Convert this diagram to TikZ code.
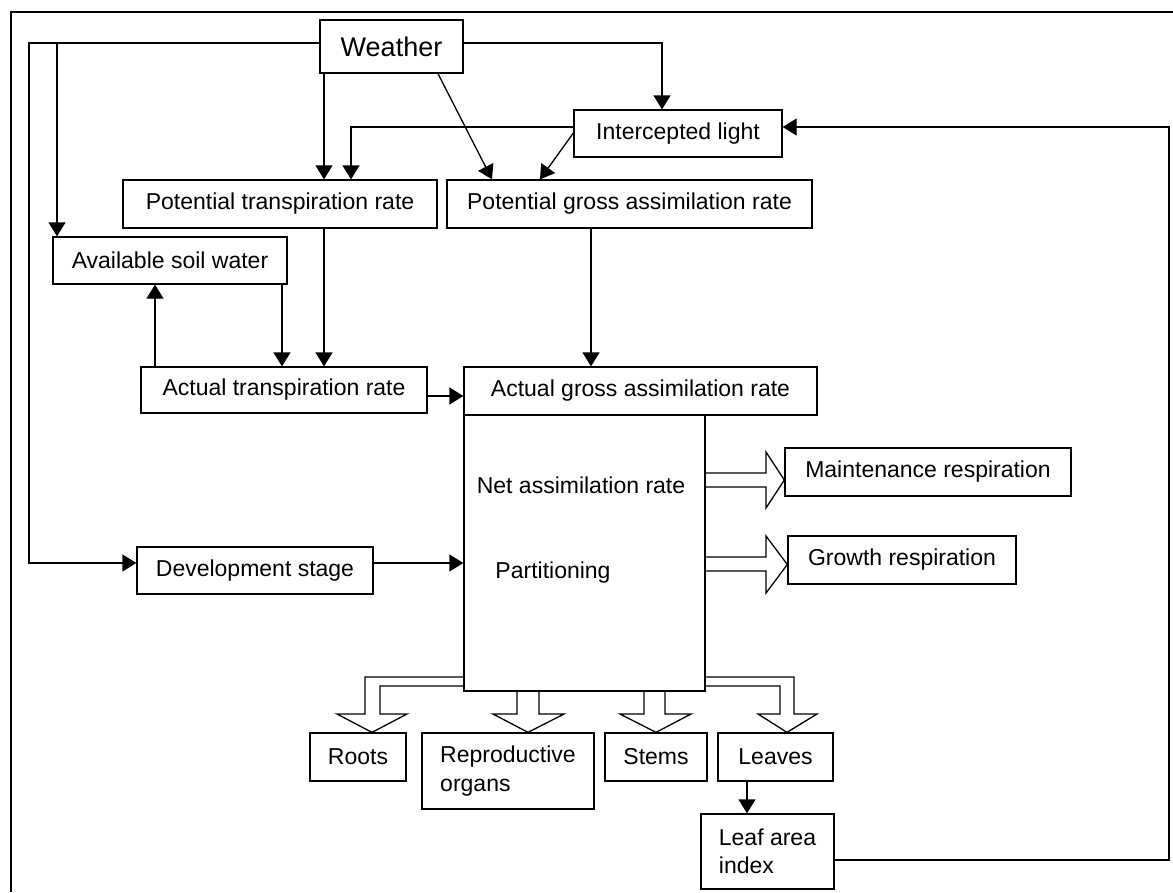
\documentclass[tikz,border=0pt]{standalone}
\usepackage{fontspec}
\setmainfont{Liberation Sans}
\usetikzlibrary{arrows.meta}
\begin{document}
\begin{tikzpicture}[x=1pt,y=-1pt,
  box/.style={draw, line width=1.3pt, inner sep=0pt, font=\fontsize{23}{28.5}\selectfont},
  lbl/.style={inner sep=0pt, font=\fontsize{23}{28.5}\selectfont},
  arr/.style={draw, line width=1.3pt, -{Triangle[length=14pt,width=17pt]}},
  hollow/.style={draw, line width=1.3pt, line join=miter}]
\useasboundingbox (0,0) rectangle (1173,892);
\fill[white] (0,0) rectangle (1173,892);
\draw[line width=2pt] (11,892) -- (11,12) -- (1173,12);
% nodes
\node[box, minimum width=143pt, minimum height=53pt, font=\fontsize{27}{32}\selectfont] (weather) at (391.5,46.5) {Weather};
\node[box, minimum width=208pt, minimum height=47pt] (intl) at (678,133.5) {Intercepted light};
\node[box, minimum width=314pt, minimum height=48pt] (ptrans) at (280,204) {Potential transpiration rate};
\node[box, minimum width=365pt, minimum height=48pt] (pgross) at (629.5,204) {Potential gross assimilation rate};
\node[box, minimum width=234pt, minimum height=47pt] (avail) at (170,260.5) {Available soil water};
\node[box, minimum width=286pt, minimum height=46pt] (atrans) at (284,390) {Actual transpiration rate};
\node[box, minimum width=353pt, minimum height=48pt] (agross) at (640.5,391) {Actual gross assimilation rate};
\node[box, minimum width=241pt, minimum height=276pt] (big) at (584.5,553) {};
\node[lbl] (net) at (581,485) {Net assimilation rate};
\node[lbl] (part) at (553,573) {Partitioning};
\node[box, minimum width=286pt, minimum height=48pt] (maint) at (928,472) {Maintenance respiration};
\node[box, minimum width=228pt, minimum height=48pt] (growth) at (902,560) {Growth respiration};
\node[box, minimum width=236pt, minimum height=47pt] (dev) at (255,570.5) {Development stage};
\node[box, minimum width=96pt, minimum height=48pt] (roots) at (358,757) {Roots};
\node[box, minimum width=172pt, minimum height=76pt, align=left] (repro) at (508,771) {Reproductive\\organs};
\node[box, minimum width=102pt, minimum height=48pt] (stems) at (656,757) {Stems};
\node[box, minimum width=115pt, minimum height=48pt] (leaves) at (775.5,757) {Leaves};
\node[box, minimum width=133pt, minimum height=75pt, align=left] (lai) at (767.5,851.5) {Leaf area\\index};
% bend coordinates
\coordinate (wL) at (29,43);
\coordinate (wB) at (57,43);
\coordinate (wR) at (662,43);
\coordinate (dL) at (29,563);
\coordinate (iL) at (351,127);
\coordinate (fbT) at (1169,127);
\coordinate (fbB) at (1169,860);
% connectors
\draw[arr] (weather.west |- wL) -- (wL) -- (dL) -- (dev.west |- dL);
\draw[arr] (wB) -- (avail.north -| wB);
\draw[arr] (weather.south -| 324,0) -- (ptrans.north -| 324,0);
\draw[arr] (weather.south -| 438,0) -- (pgross.north -| 492,0);
\draw[arr] (weather.east |- wR) -- (wR) -- (intl.north -| wR);
\draw[arr] (intl.west |- iL) -- (iL) -- (ptrans.north -| iL);
\draw[arr] (intl.west |- 0,133) -- (pgross.north -| 540,0);
\draw[arr] (lai.east |- fbB) -- (fbB) -- (fbT) -- (intl.east |- fbT);
\draw[arr] (ptrans.south -| 324,0) -- (atrans.north -| 324,0);
\draw[arr] (avail.south -| 282,0) -- (atrans.north -| 282,0);
\draw[arr] (atrans.north -| 155,0) -- (avail.south -| 155,0);
\draw[arr] (atrans.east |- 0,396) -- (agross.west |- 0,396);
\draw[arr] (pgross.south -| 591,0) -- (agross.north -| 591,0);
\draw[arr] (dev.east |- 0,563) -- (big.west |- 0,563);
\draw[arr] (leaves.south -| 747,0) -- (lai.north -| 747,0);
% hollow arrows
\draw[hollow] (big.east |- 0,473) -- (766,473) -- (766,452) -- (maint.west |- 0,480) -- (766,508) -- (766,487) -- (big.east |- 0,487);
\draw[hollow] (big.east |- 0,557) -- (766,557) -- (766,536) -- (growth.west |- 0,564.5) -- (766,593) -- (766,571) -- (big.east |- 0,571);
\draw[hollow] (big.west |- 0,677) -- (365,677) -- (365,714) -- (337,714) -- (roots.north -| 372,0) -- (407,714) -- (380,714) -- (380,686) -- (big.west |- 0,686);
\draw[hollow] (big.south -| 517,0) -- (517,714) -- (493,714) -- (repro.north -| 528,0) -- (564,714) -- (539,714) -- (big.south -| 539,0);
\draw[hollow] (big.south -| 644,0) -- (644,714) -- (620,714) -- (stems.north -| 656,0) -- (691,714) -- (665,714) -- (big.south -| 665,0);
\draw[hollow] (big.east |- 0,677) -- (794,677) -- (794,714) -- (817,714) -- (leaves.north -| 787,0) -- (758,714) -- (780,714) -- (780,686) -- (big.east |- 0,686);
\end{tikzpicture}
\end{document}
